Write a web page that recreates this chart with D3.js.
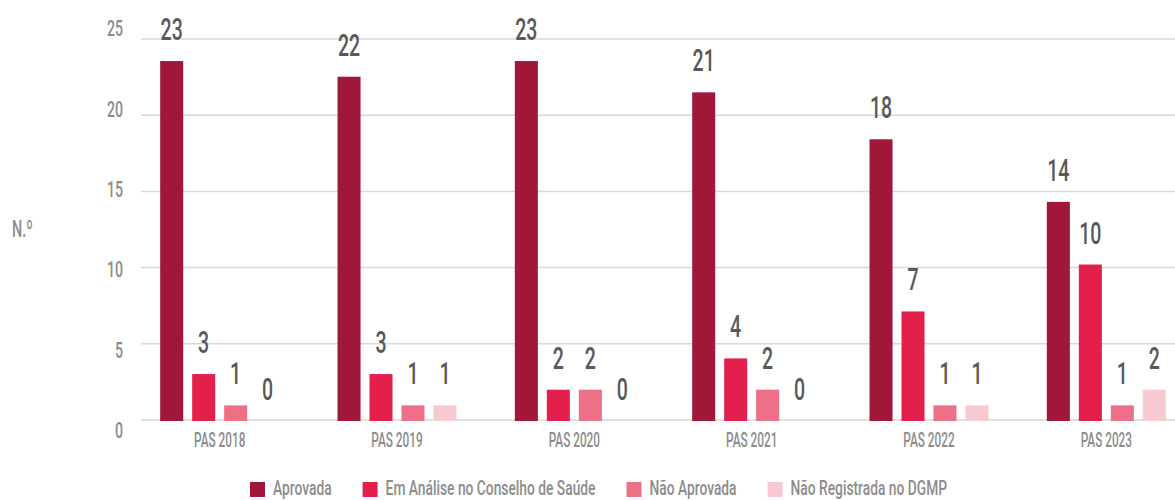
<!DOCTYPE html>
<html>
<head>
<meta charset="utf-8">
<script src="https://cdn.jsdelivr.net/npm/d3@7"></script>
<style>
  body { margin: 0; background: #fff; }
  svg text { font-family: Roboto, "Liberation Sans", sans-serif; font-weight: 500; }
</style>
</head>
<body>
<script>
// Chart data
let categories = ["PAS 2018", "PAS 2019", "PAS 2020", "PAS 2021", "PAS 2022", "PAS 2023"];
let seriesNames = ["Aprovada", "Em Análise no Conselho de Saúde", "Não Aprovada", "Não Registrada no DGMP"];
let aprovada = [23, 22, 23, 21, 18, 14];
let emAnalise = [3, 3, 2, 4, 7, 10];
let naoAprovada = [1, 1, 2, 2, 1, 1];
let naoRegistrada = [0, 1, 0, 0, 1, 2];
let yTicks = [0, 5, 10, 15, 20, 25];
let yLabel = "N.º";

let colors = ["#a1173a", "#e3204c", "#ee7086", "#f8c9d1"];

let svgWidth = 1175;
let svgHeight = 500;

let svg = d3.select("body")
    .append("svg")
    .attr("width", svgWidth)
    .attr("height", svgHeight);

// Build rows for grouped bars
let seriesValues = [aprovada, emAnalise, naoAprovada, naoRegistrada];
let rows = categories.map((c, i) => ({
    category: c,
    values: seriesNames.map((s, j) => ({ series: s, value: seriesValues[j][i], idx: j }))
}));

// Scales
let x0 = d3.scaleBand()
    .domain(categories)
    .range([131, 1195]);

let x1 = d3.scaleBand()
    .domain(seriesNames)
    .range([0, 119])
    .paddingInner(0.28);

let groupOffset = (x0.bandwidth() - 119) / 2;

let yScale = d3.scaleLinear()
    .domain([0, 25])
    .range([421, 421 - 25 * 15.65]);

let gridScale = d3.scaleLinear()
    .domain([0, 25])
    .range([420, 39]);

let tickLabelScale = d3.scaleLinear()
    .domain([0, 25])
    .range([430, 28.5]);

let color = d3.scaleOrdinal()
    .domain(seriesNames)
    .range(colors);

// Gridlines
svg.append("g")
    .selectAll("line")
    .data(yTicks)
    .enter()
    .append("line")
    .attr("x1", 141)
    .attr("x2", svgWidth)
    .attr("y1", d => gridScale(d))
    .attr("y2", d => gridScale(d))
    .attr("stroke", "#d9d9d9")
    .attr("stroke-width", 1.5);

// Y tick labels
svg.append("g")
    .selectAll("text")
    .data(yTicks)
    .enter()
    .append("text")
    .attr("transform", d => `translate(123, ${tickLabelScale(d)}) scale(0.64, 1)`)
    .attr("dy", "0.36em")
    .attr("text-anchor", "end")
    .attr("font-size", 22)
    .attr("fill", "#8c8c8c")
    .text(d => d);

// Y axis title
svg.append("text")
    .attr("transform", "translate(12, 237) scale(0.6, 1)")
    .attr("font-size", 24)
    .attr("fill", "#8c8c8c")
    .text(yLabel);

// Bars
let groups = svg.append("g")
    .selectAll("g")
    .data(rows)
    .enter()
    .append("g")
    .attr("transform", d => `translate(${x0(d.category) + groupOffset}, 0)`);

groups.selectAll("rect")
    .data(d => d.values)
    .enter()
    .append("rect")
    .attr("x", d => x1(d.series))
    .attr("width", x1.bandwidth())
    .attr("y", d => yScale(d.value))
    .attr("height", d => yScale(0) - yScale(d.value))
    .attr("fill", d => color(d.series));

// Value labels
groups.selectAll("text")
    .data(d => d.values)
    .enter()
    .append("text")
    .attr("transform", d => `translate(${x1(d.series) + x1.bandwidth() / 2}, ${yScale(d.value) - 21}) scale(0.63, 1)`)
    .attr("text-anchor", "middle")
    .attr("font-size", 31)
    .attr("fill", "#595959")
    .text(d => d.value);

// Category labels
svg.append("g")
    .selectAll("text")
    .data(categories)
    .enter()
    .append("text")
    .attr("transform", d => `translate(${x0(d) + x0.bandwidth() / 2}, 447) scale(0.59, 1)`)
    .attr("text-anchor", "middle")
    .attr("font-size", 20)
    .attr("fill", "#8c8c8c")
    .text(d => d);

// Legend
let legend = svg.append("g");
let lx = 250;
seriesNames.forEach((name, i) => {
    legend.append("rect")
        .attr("x", lx)
        .attr("y", 482)
        .attr("width", 15)
        .attr("height", 15)
        .attr("fill", colors[i]);
    let t = legend.append("text")
        .attr("transform", `translate(${lx + 23}, 495) scale(0.69, 1)`)
        .attr("font-size", 20)
        .attr("fill", "#8c8c8c")
        .text(name);
    let w = t.node().getComputedTextLength() * 0.69;
    lx = lx + 23 + w + 31;
});
</script>
</body>
</html>
